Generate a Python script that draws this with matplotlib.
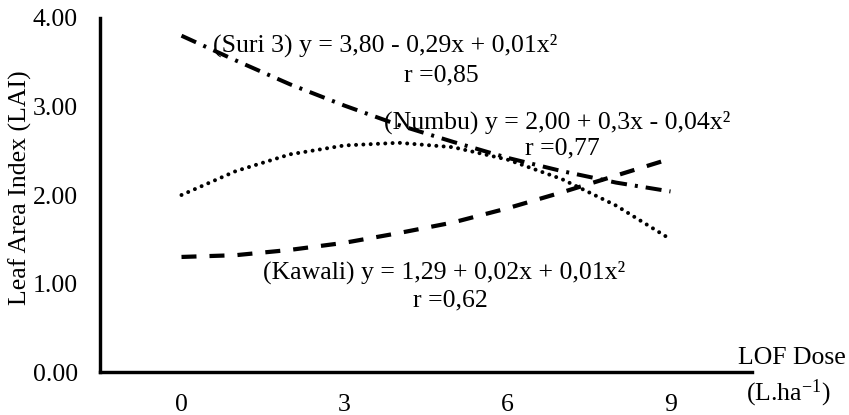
import matplotlib
matplotlib.use("Agg")
import matplotlib.pyplot as plt

plt.rcParams['font.family'] = ['Liberation Serif', 'DejaVu Serif']
plt.rcParams['mathtext.fontset'] = 'custom'
plt.rcParams['mathtext.rm'] = 'Liberation Serif'
plt.rcParams['mathtext.it'] = 'Liberation Serif:italic'
plt.rcParams['lines.scale_dashes'] = False

# Data
dose = [0, 1, 2, 3, 4, 5, 6, 7, 8, 9]
suri3 = [3.80, 3.52, 3.25, 3.01, 2.79, 2.60, 2.42, 2.27, 2.14, 2.04]
numbu = [2.00, 2.27, 2.46, 2.56, 2.59, 2.54, 2.40, 2.18, 1.88, 1.50]
kawali = [1.30, 1.32, 1.38, 1.46, 1.57, 1.69, 1.85, 2.03, 2.22, 2.41]
xticks = [0, 3, 6, 9]
xticklabels = ["0", "3", "6", "9"]
yticks = [0, 1, 2, 3, 4]
yticklabels = ["0.00", "1.00", "2.00", "3.00", "4.00"]

W, H = 849, 415
fig = plt.figure(figsize=(W / 100, H / 100), dpi=100)
ax = fig.add_axes([100 / W, 1 - 372 / H, (752 - 100) / W, (372 - 18) / H])

px = 0.72  # points per pixel

ax.plot(dose, suri3, color='black', lw=4.0 * px, solid_capstyle='butt',
        dash_capstyle='butt',
        linestyle=(0, (16 * px, 8 * px, 3 * px, 8 * px)))
ax.plot(dose, numbu, color='black', lw=4.0 * px, dash_capstyle='round',
        linestyle=(0, (0.01, 7.3 * px)))
ax.plot(dose, kawali, color='black', lw=4.2 * px, dash_capstyle='butt',
        linestyle=(0, (15 * px, 13 * px)))

fs = 18.5

ax.set_xlim(-1.5, 10.5)
ax.set_ylim(0, 4)
ax.set_xticks(xticks)
ax.set_xticklabels(xticklabels)
ax.set_yticks(yticks)
ax.set_yticklabels(yticklabels)
ax.tick_params(axis='both', length=0, labelsize=fs)
ax.tick_params(axis='x', pad=16)
ax.tick_params(axis='y', pad=16)
for s in ['top', 'right']:
    ax.spines[s].set_visible(False)
for s in ['left', 'bottom']:
    ax.spines[s].set_linewidth(3.4 * px)

def fx(p):
    return p / W

def fy(p):
    return 1 - p / H

fig.text(fx(213), fy(45), "(Suri 3) y = 3,80 - 0,29x + 0,01x²", fontsize=fs,
         ha='left', va='center')
fig.text(fx(441), fy(75), "r =0,85", fontsize=fs, ha='center', va='center')
fig.text(fx(384), fy(122), "(Numbu) y = 2,00 + 0,3x - 0,04x²", fontsize=fs,
         ha='left', va='center')
fig.text(fx(562), fy(148), "r =0,77", fontsize=fs, ha='center', va='center')
fig.text(fx(263), fy(272), "(Kawali) y = 1,29 + 0,02x + 0,01x²", fontsize=fs,
         ha='left', va='center')
fig.text(fx(450), fy(300), "r =0,62", fontsize=fs, ha='center', va='center')
fig.text(fx(792), fy(358), "LOF Dose", fontsize=fs, ha='center', va='center')
fig.text(fx(788), fy(393), r"(L.ha$^{-1}$)", fontsize=fs, ha='center', va='center')
fig.text(fx(20), fy(188), "Leaf Area Index (LAI)", fontsize=fs, rotation=90,
         ha='center', va='center')

fig.savefig("out.png", dpi=100)
